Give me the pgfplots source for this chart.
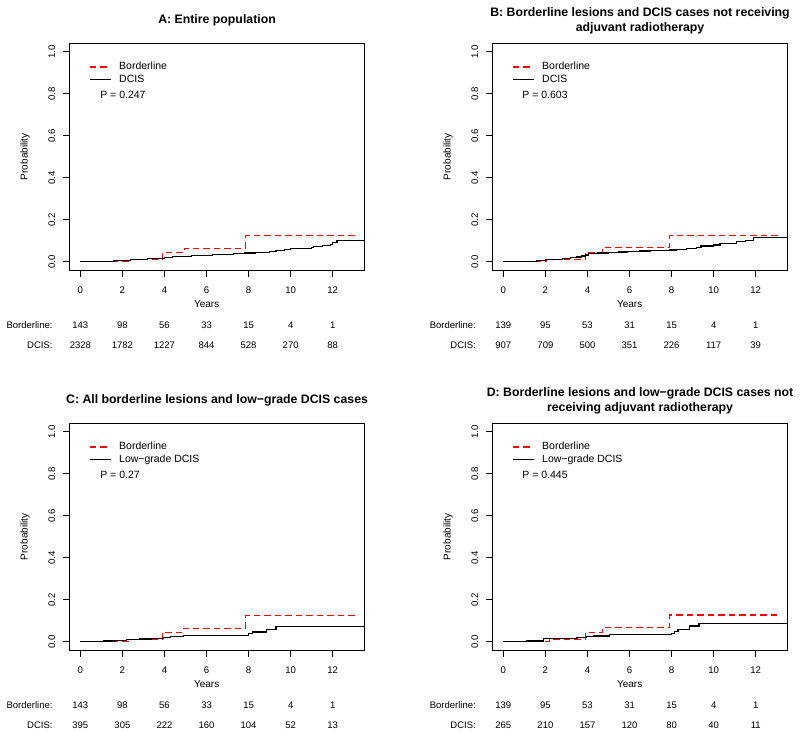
\documentclass[border=0pt]{standalone}
\usepackage{pgfplots}
\pgfplotsset{compat=1.18}
\usepackage{fontspec}
\setmainfont{Liberation Sans}
\newcommand\fsT{\fontsize{12.3bp}{15.3bp}\selectfont\bfseries}
\newcommand\fsL{\fontsize{10.5bp}{12bp}\selectfont}
\newcommand\fsS{\fontsize{9.5bp}{11bp}\selectfont}
\tikzset{
  blstyle/.style={red, line width=1.3bp, dash pattern=on 6.5bp off 4bp},
  dcstyle/.style={black, line width=1.2bp},
}
\pgfplotsset{
  km/.style={
    scale only axis, width=295.3bp, height=226.8bp,
    xmin=-0.52, xmax=13.52, ymin=-0.04, ymax=1.04,
    xtick={0,2,4,6,8,10,12}, ytick={0,0.2,0.4,0.6,0.8,1},
    tick align=outside, xtick pos=bottom, ytick pos=left,
    major tick length=6.5bp,
    axis line style={line width=1bp, black},
    tick style={line width=1bp, black},
    /pgf/number format/assume math mode=true,
    tick label style={font=\fontsize{9.6bp}{11bp}\selectfont},
    xticklabel style={anchor=center, yshift=-13.5bp},
    yticklabel style={xshift=-11.2bp, rotate=90, anchor=center, /pgf/number format/.cd, fixed, fixed zerofill, precision=1},
    xlabel={Years}, ylabel={Probability},
    every axis x label/.style={at={(axis description cs:0.465,-0.15)}, anchor=center, font=\fontsize{10bp}{12bp}\selectfont},
    every axis y label/.style={at={(axis description cs:-0.1504,0.5)}, rotate=90, anchor=center, font=\fontsize{10bp}{12bp}\selectfont},
    title style={at={(axis description cs:0.5,1)}, anchor=center, yshift=16.8bp, align=center, font=\fsT},
    legend style={at={(axis description cs:0.066,0.917)}, anchor=north west, draw=none, fill=none, inner sep=0pt, outer sep=0pt, font=\fsL, row sep=2.6bp, column sep=0pt, nodes={inner sep=0pt, outer sep=0pt, text height=7.6bp, text depth=2.2bp}, cells={anchor=west}},
    legend image code/.code={\draw[##1] (0bp,0bp) -- (21bp,0bp); \path (29bp,0bp);},
    clip=false,
  },
  risk/.style={draw=none, mark=none, forget plot, nodes near coords, point meta=explicit symbolic,
    every node near coord/.style={anchor=center, yshift=#1, font=\fsS}},
}
\begin{document}
\begin{tikzpicture}
\path[use as bounding box] (0,0) rectangle (800bp,-735bp);

% ---------- A ----------
\begin{axis}[km, at={(69.4bp,-270.1bp)}, anchor=south west, title={A: Entire population}]
\addplot[blstyle, const plot] coordinates {(0,0) (2.28,0.01) (3.9,0.043) (4.95,0.064) (7.86,0.124) (13.15,0.124)};
\addlegendentry{Borderline}
\addplot[dcstyle, const plot] coordinates {(0,0) (1.25,0.002) (1.6,0.004) (2.0,0.007) (2.4,0.009) (2.8,0.012) (3.2,0.014) (3.6,0.017) (4.0,0.020) (4.4,0.023) (4.8,0.026) (5.3,0.028) (5.8,0.031) (6.3,0.034) (6.8,0.036) (7.3,0.039) (7.8,0.041) (8.3,0.043) (8.8,0.045) (9.0,0.050) (9.3,0.055) (9.7,0.058) (10.0,0.061) (10.5,0.064) (11.0,0.068) (11.1,0.074) (11.5,0.078) (11.9,0.083) (12.0,0.090) (12.2,0.100) (13.52,0.100)};
\addlegendentry{DCIS}
\addplot[risk=-55bp] coordinates {(0,-0.04) [143] (2,-0.04) [98] (4,-0.04) [56] (6,-0.04) [33] (8,-0.04) [15] (10,-0.04) [4] (12,-0.04) [1]};
\addplot[risk=-75bp] coordinates {(0,-0.04) [2328] (2,-0.04) [1782] (4,-0.04) [1227] (6,-0.04) [844] (8,-0.04) [528] (10,-0.04) [270] (12,-0.04) [88]};
\node[anchor=west, inner sep=0pt, font=\fsL] at (axis description cs:0.104,0.772) {P = 0.247};
\node[anchor=east, inner sep=0pt, font=\fsS, xshift=-16.7bp, yshift=-55bp] at (axis description cs:0,0) {Borderline:};
\node[anchor=east, inner sep=0pt, font=\fsS, xshift=-16.7bp, yshift=-75bp] at (axis description cs:0,0) {DCIS:};
\end{axis}

% ---------- B ----------
\begin{axis}[km, at={(492.4bp,-270.1bp)}, anchor=south west, title={B: Borderline lesions and DCIS cases not receiving\\adjuvant radiotherapy}]
\addplot[blstyle, const plot] coordinates {(0,0) (2.06,0.012) (3.9,0.045) (4.7,0.067) (7.9,0.124) (13.05,0.124)};
\addlegendentry{Borderline}
\addplot[dcstyle, const plot] coordinates {(0,0) (1.2,0.002) (1.6,0.005) (2.0,0.009) (2.4,0.012) (2.8,0.016) (3.2,0.019) (3.5,0.022) (3.7,0.027) (3.9,0.032) (4.05,0.038) (4.5,0.041) (5.0,0.044) (5.5,0.046) (5.9,0.049) (6.5,0.051) (7.0,0.053) (7.9,0.056) (8.25,0.060) (8.7,0.064) (9.2,0.069) (9.4,0.075) (10.0,0.080) (10.3,0.086) (11.1,0.095) (11.5,0.102) (11.9,0.116) (13.52,0.116)};
\addlegendentry{DCIS}
\addplot[risk=-55bp] coordinates {(0,-0.04) [139] (2,-0.04) [95] (4,-0.04) [53] (6,-0.04) [31] (8,-0.04) [15] (10,-0.04) [4] (12,-0.04) [1]};
\addplot[risk=-75bp] coordinates {(0,-0.04) [907] (2,-0.04) [709] (4,-0.04) [500] (6,-0.04) [351] (8,-0.04) [226] (10,-0.04) [117] (12,-0.04) [39]};
\node[anchor=west, inner sep=0pt, font=\fsL] at (axis description cs:0.101,0.772) {P = 0.603};
\node[anchor=east, inner sep=0pt, font=\fsS, xshift=-16.4bp, yshift=-55bp] at (axis description cs:0,0) {Borderline:};
\node[anchor=east, inner sep=0pt, font=\fsS, xshift=-16.4bp, yshift=-75bp] at (axis description cs:0,0) {DCIS:};
\end{axis}

% ---------- C ----------
\begin{axis}[km, at={(69.4bp,-650.1bp)}, anchor=south west, title={C: All borderline lesions and low−grade DCIS cases}]
\addplot[blstyle, const plot] coordinates {(0,0) (2.28,0.01) (3.9,0.045) (4.9,0.064) (7.86,0.124) (13.15,0.124)};
\addlegendentry{Borderline}
\addplot[dcstyle, const plot] coordinates {(0,0) (1.1,0.003) (1.6,0.005) (2.2,0.010) (2.8,0.013) (3.4,0.016) (3.95,0.020) (4.3,0.024) (4.9,0.028) (5.5,0.030) (8.0,0.040) (8.2,0.046) (8.85,0.059) (9.3,0.071) (13.52,0.071)};
\addlegendentry{Low−grade DCIS}
\addplot[risk=-55bp] coordinates {(0,-0.04) [143] (2,-0.04) [98] (4,-0.04) [56] (6,-0.04) [33] (8,-0.04) [15] (10,-0.04) [4] (12,-0.04) [1]};
\addplot[risk=-75bp] coordinates {(0,-0.04) [395] (2,-0.04) [305] (4,-0.04) [222] (6,-0.04) [160] (8,-0.04) [104] (10,-0.04) [52] (12,-0.04) [13]};
\node[anchor=west, inner sep=0pt, font=\fsL] at (axis description cs:0.104,0.772) {P = 0.27};
\node[anchor=east, inner sep=0pt, font=\fsS, xshift=-16.7bp, yshift=-54.5bp] at (axis description cs:0,0) {Borderline:};
\node[anchor=east, inner sep=0pt, font=\fsS, xshift=-16.7bp, yshift=-75bp] at (axis description cs:0,0) {DCIS:};
\end{axis}

% ---------- D ----------
\begin{axis}[km, at={(492.4bp,-650.1bp)}, anchor=south west, title={D: Borderline lesions and low−grade DCIS cases not\\receiving adjuvant radiotherapy}]
\addplot[blstyle, const plot] coordinates {(0,0) (2.2,0.012) (3.9,0.044) (4.7,0.067) (7.9,0.127) (13.1,0.127)};
\addlegendentry{Borderline}
\addplot[dcstyle, const plot] coordinates {(0,0) (1.1,0.003) (1.9,0.014) (2.9,0.017) (3.5,0.019) (3.95,0.024) (4.3,0.027) (5.05,0.034) (8.0,0.040) (8.15,0.048) (8.3,0.059) (8.85,0.075) (9.3,0.087) (13.52,0.087)};
\addlegendentry{Low−grade DCIS}
\addplot[risk=-55bp] coordinates {(0,-0.04) [139] (2,-0.04) [95] (4,-0.04) [53] (6,-0.04) [31] (8,-0.04) [15] (10,-0.04) [4] (12,-0.04) [1]};
\addplot[risk=-75bp] coordinates {(0,-0.04) [265] (2,-0.04) [210] (4,-0.04) [157] (6,-0.04) [120] (8,-0.04) [80] (10,-0.04) [40] (12,-0.04) [11]};
\node[anchor=west, inner sep=0pt, font=\fsL] at (axis description cs:0.101,0.772) {P = 0.445};
\node[anchor=east, inner sep=0pt, font=\fsS, xshift=-16.4bp, yshift=-54.5bp] at (axis description cs:0,0) {Borderline:};
\node[anchor=east, inner sep=0pt, font=\fsS, xshift=-16.4bp, yshift=-75bp] at (axis description cs:0,0) {DCIS:};
\end{axis}
\end{tikzpicture}
\end{document}
